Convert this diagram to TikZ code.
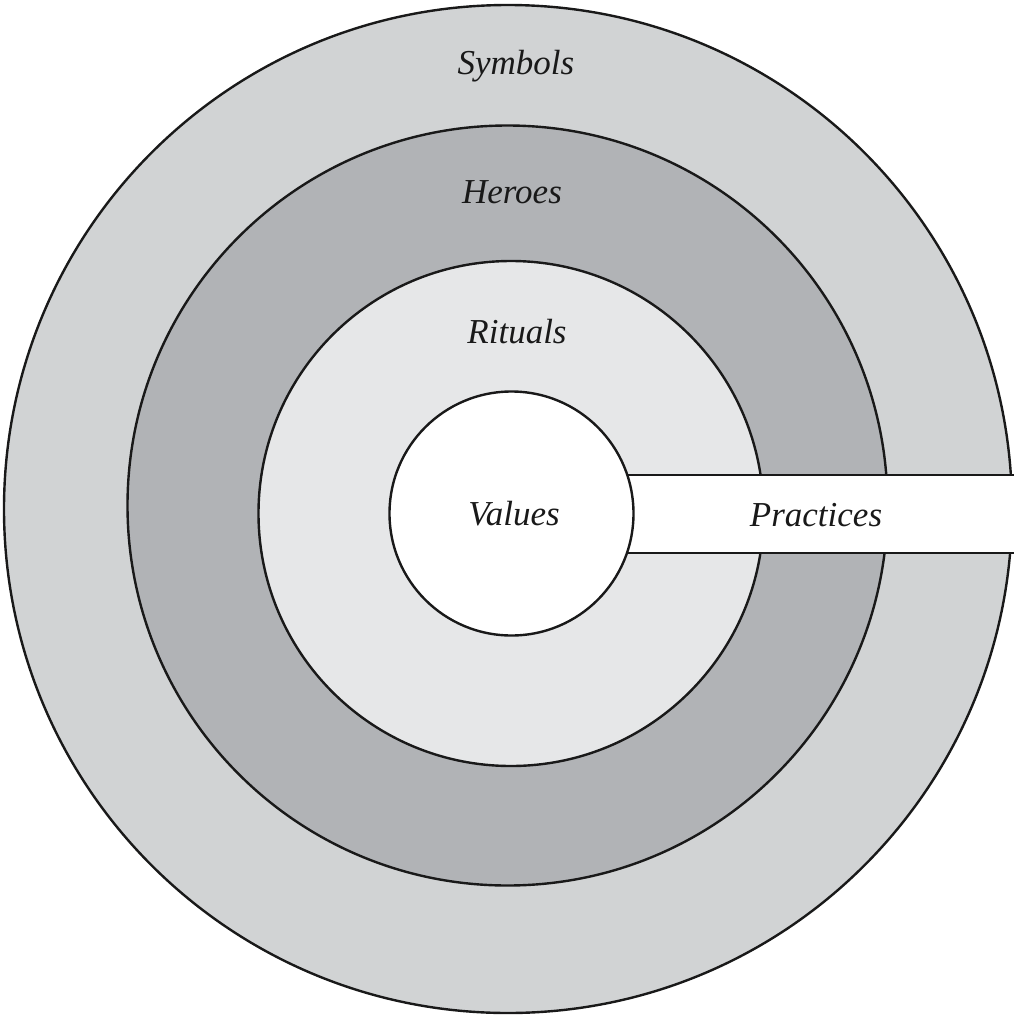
\documentclass[tikz,border=0pt]{standalone}
\usepackage{fontspec}
\setmainfont{Liberation Serif}
\definecolor{symcol}{HTML}{D1D3D4}
\definecolor{herocol}{HTML}{B1B3B6}
\definecolor{ritcol}{HTML}{E6E7E8}
\tikzset{
  ring/.style={circle, draw=black!90, line width=2.4pt, inner sep=0pt, outer sep=0pt},
  lbl/.style={font=\fontsize{35}{40}\selectfont\itshape, text=black!90, inner sep=0pt},
  bandline/.style={draw=black!90, line width=2.4pt}
}
\begin{document}
\begin{tikzpicture}[x=1pt,y=-1pt]
\useasboundingbox (0,0) rectangle (1014,1018);
\node[ring, fill=symcol, minimum size=1008pt] (symbols) at (508,509) {};
\node[ring, fill=herocol, minimum size=760pt] (heroes) at (507.5,505.5) {};
\node[ring, fill=ritcol, minimum size=505pt] (rituals) at (511,513.5) {};
\coordinate (bandTL) at (560,475);
\coordinate (bandTR) at (1014,475);
\coordinate (bandBL) at (560,553);
\coordinate (bandBR) at (1014,553);
\fill[white] (bandTL) rectangle (bandBR);
\draw[bandline] (bandTL) -- (bandTR);
\draw[bandline] (bandBL) -- (bandBR);
\node[ring, fill=white, minimum size=244pt] (values) at (511.5,513.5) {};
\node[lbl] (tsym) at (516,66) {Symbols};
\node[lbl] (thero) at (512,192) {Heroes};
\node[lbl] (trit) at (517,332) {Rituals};
\node[lbl] (tval) at (514,514) {Values};
\node[lbl] (tprac) at (816,515) {Practices};
\end{tikzpicture}
\end{document}
